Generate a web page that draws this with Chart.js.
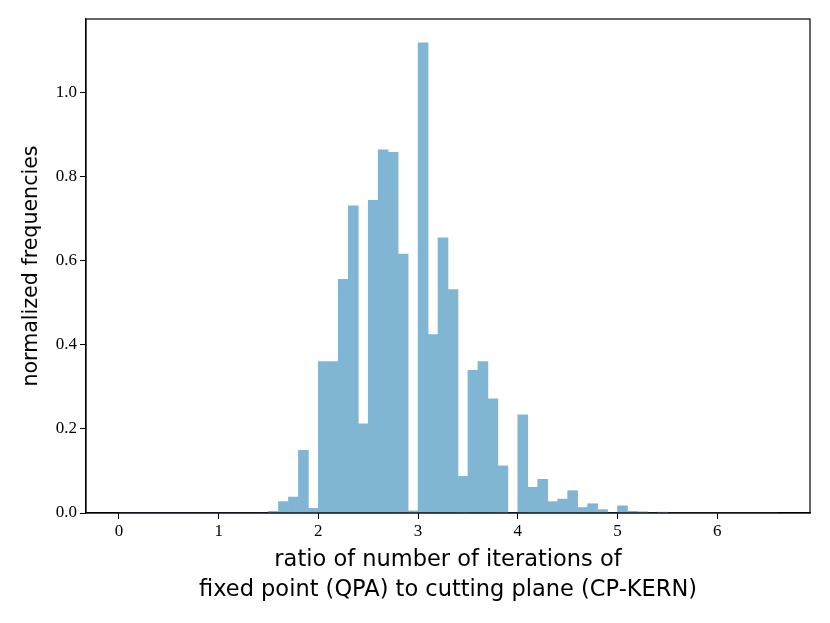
<!DOCTYPE html>
<html>
<head>
<meta charset="utf-8">
<script src="https://cdn.jsdelivr.net/npm/chart.js@4.4.1/dist/chart.umd.min.js"></script>
<style>
  html, body { margin: 0; padding: 0; background: #fff; }
  #wrap { width: 830px; height: 623px; }
</style>
</head>
<body>
<div id="wrap"><canvas id="histRatio"></canvas></div>
<script>
// histogram of iteration ratios, bins of width 0.1 starting at 0
const binStart = 0;
const binWidth = 0.1;
const freqs = [
  0, 0, 0, 0, 0, 0, 0, 0, 0, 0,                                   // 0.0 - 1.0
  0, 0, 0, 0, 0, 0.004, 0.027, 0.038, 0.149, 0.011,               // 1.0 - 2.0
  0.360, 0.360, 0.555, 0.730, 0.212, 0.743, 0.863, 0.857, 0.615, 0.005, // 2.0 - 3.0
  1.117, 0.424, 0.654, 0.531, 0.087, 0.339, 0.360, 0.271, 0.112, 0,     // 3.0 - 4.0
  0.233, 0.061, 0.080, 0.027, 0.033, 0.053, 0.013, 0.022, 0.008, 0,     // 4.0 - 5.0
  0.017, 0.004, 0.003, 0, 0.002, 0, 0, 0, 0, 0,                   // 5.0 - 6.0
  0, 0, 0, 0, 0, 0                                                // 6.0 - 6.6
];
const xTicks = [0, 1, 2, 3, 4, 5, 6];
const yTicks = [0.0, 0.2, 0.4, 0.6, 0.8, 1.0];

const points = freqs.map((v, i) => ({ x: binStart + (i + 0.5) * binWidth, y: v }));

const serif = "'Liberation Serif', 'DejaVu Serif', serif";
const sans = "'DejaVu Sans', 'Open Sans', sans-serif";

// draws the top and right sides of the frame
const frameBox = {
  id: 'frameBox',
  afterDraw(chart) {
    const { ctx, chartArea: a } = chart;
    ctx.save();
    ctx.strokeStyle = '#000';
    ctx.lineWidth = 1.2;
    ctx.strokeRect(a.left, a.top, a.right - a.left, a.bottom - a.top);
    ctx.restore();
  },
};

var ctx = document.getElementById('histRatio');
var histChart = new Chart(ctx, {
  type: 'bar',
  data: {
    datasets: [
      {
        label: 'ratio',
        data: points,
        backgroundColor: '#80b6d3',
        borderWidth: 0,
        barPercentage: 1.0,
        categoryPercentage: 1.0,
      },
    ],
  },
  options: {
    responsive: true,
    maintainAspectRatio: false,
    animation: false,
    layout: { padding: { top: 19, right: 20, left: 0, bottom: 0 } },
    plugins: {
      legend: { display: false },
      tooltip: { enabled: false },
    },
    scales: {
      x: {
        type: 'linear',
        offset: false,
        min: -0.33,
        max: 6.93,
        afterBuildTicks: (scale) => {
          scale.ticks = xTicks.map((v) => ({ value: v }));
        },
        afterFit: (scale) => {
          scale.height = 110;
        },
        ticks: {
          color: '#000',
          font: { family: serif, size: 17 },
          padding: 2,
          maxRotation: 0,
          callback: (v) => String(v),
        },
        grid: {
          display: true,
          offset: false,
          drawOnChartArea: false,
          drawTicks: true,
          tickLength: 6,
          color: '#000',
          lineWidth: 1,
        },
        border: { display: true, color: '#000', width: 1.2 },
        title: {
          display: true,
          text: ['ratio of number of iterations of', 'fixed point (QPA) to cutting plane (CP-KERN)'],
          color: '#000',
          font: { family: sans, size: 22.5, lineHeight: 1.333 },
          padding: { top: 0, bottom: 18 },
        },
      },
      y: {
        min: 0,
        max: 1.1736,
        afterBuildTicks: (scale) => {
          scale.ticks = yTicks.map((v) => ({ value: v }));
        },
        afterFit: (scale) => {
          scale.width = 86;
        },
        ticks: {
          color: '#000',
          font: { family: serif, size: 17 },
          padding: 3,
          callback: (v) => v.toFixed(1),
        },
        grid: {
          display: true,
          drawOnChartArea: false,
          drawTicks: true,
          tickLength: 6,
          color: '#000',
          lineWidth: 1,
        },
        border: { display: true, color: '#000', width: 1.2 },
        title: {
          display: true,
          text: 'normalized frequencies',
          color: '#000',
          font: { family: sans, size: 20.6, lineHeight: 1.43 },
          padding: { top: 17, bottom: 0 },
        },
      },
    },
  },
  plugins: [frameBox],
});
</script>
</body>
</html>
